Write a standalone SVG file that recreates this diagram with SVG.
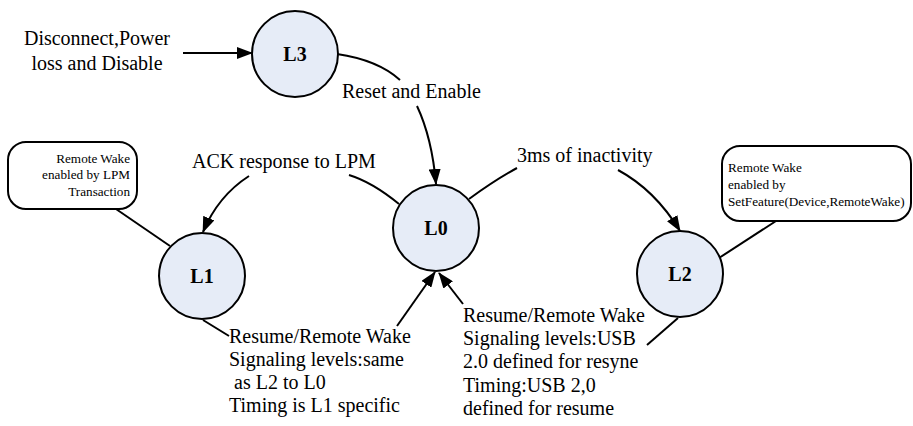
<svg xmlns="http://www.w3.org/2000/svg" width="913" height="426" viewBox="0 0 913 426">
<style>
.st{fill:#e6ecf7;stroke:#000;stroke-width:2}
.lb{font-family:"Liberation Serif",serif;font-weight:bold;font-size:20px;text-anchor:middle}
.t{font-family:"Liberation Serif",serif;font-size:20px;fill:#000}
.n{font-family:"Liberation Serif",serif;font-size:13.2px;fill:#000}
.e{fill:none;stroke:#000;stroke-width:2}
.note{fill:#fff;stroke:#000;stroke-width:2}
</style>
<defs>
<marker id="ah" markerWidth="16" markerHeight="12" refX="15" refY="6" orient="auto" markerUnits="userSpaceOnUse">
<path d="M0,0 L16,6 L0,12 z" fill="#000"/>
</marker>
</defs>
<g id="connectors">
<path class="e" d="M183,53 L252,53" marker-end="url(#ah)"/>
<path class="e" d="M337,54 Q378,60 400,80"/>
<path class="e" d="M417,106 Q432,138 436,184" marker-end="url(#ah)"/>
<path class="e" d="M399,204 Q372,182 349,175"/>
<path class="e" d="M249,176 Q218,196 203,232" marker-end="url(#ah)"/>
<path class="e" d="M469,199 Q495,180 517,168"/>
<path class="e" d="M618,170 Q655,190 680,231" marker-end="url(#ah)"/>
<path class="e" d="M397,326 L435,272" marker-end="url(#ah)"/>
<path class="e" d="M463,304 L439,273" marker-end="url(#ah)"/>
<path class="e" d="M203,320 L229,336"/>
<path class="e" d="M678,318 L647,345"/>
<path class="e" d="M116,209 L170,246"/>
<path class="e" d="M776,221 L719,258"/>
</g>
<g id="L3"><circle class="st" cx="295" cy="54" r="43"/><text class="lb" x="295" y="61">L3</text></g>
<g id="L0"><circle class="st" cx="436" cy="228" r="43"/><text class="lb" x="436" y="235">L0</text></g>
<g id="L1"><circle class="st" cx="202" cy="276" r="43"/><text class="lb" x="202" y="283">L1</text></g>
<g id="L2"><circle class="st" cx="680" cy="274" r="43"/><text class="lb" x="680" y="281">L2</text></g>
<g id="note1"><rect class="note" x="8" y="142" width="129" height="67" rx="18"/>
<text class="n" text-anchor="end" x="130"><tspan x="130" y="163">Remote Wake</tspan><tspan x="130" y="179">enabled by LPM</tspan><tspan x="130" y="196">Transaction</tspan></text></g>
<g id="note2"><rect class="note" x="722" y="146" width="189" height="75" rx="18"/>
<text class="n" x="728"><tspan x="728" y="172">Remote Wake</tspan><tspan x="728" y="189">enabled by</tspan><tspan x="728" y="206">SetFeature(Device,RemoteWake)</tspan></text></g>
<g id="labels">
<text class="t" text-anchor="middle"><tspan x="97" y="45">Disconnect,Power</tspan><tspan x="97" y="70">loss and Disable</tspan></text>
<text class="t" x="342" y="98">Reset and Enable</text>
<text class="t" x="192" y="168">ACK response to LPM</text>
<text class="t" x="517" y="162">3ms of inactivity</text>
<text class="t"><tspan x="229" y="343">Resume/Remote Wake</tspan><tspan x="229" y="366">Signaling levels:same</tspan><tspan x="229" y="389" xml:space="preserve"> as L2 to L0</tspan><tspan x="229" y="412">Timing is L1 specific</tspan></text>
<text class="t"><tspan x="463" y="322">Resume/Remote Wake</tspan><tspan x="463" y="345">Signaling levels:USB</tspan><tspan x="463" y="368">2.0 defined for resyne</tspan><tspan x="463" y="392">Timing:USB 2,0</tspan><tspan x="463" y="415">defined for resume</tspan></text>
</g>
</svg>
